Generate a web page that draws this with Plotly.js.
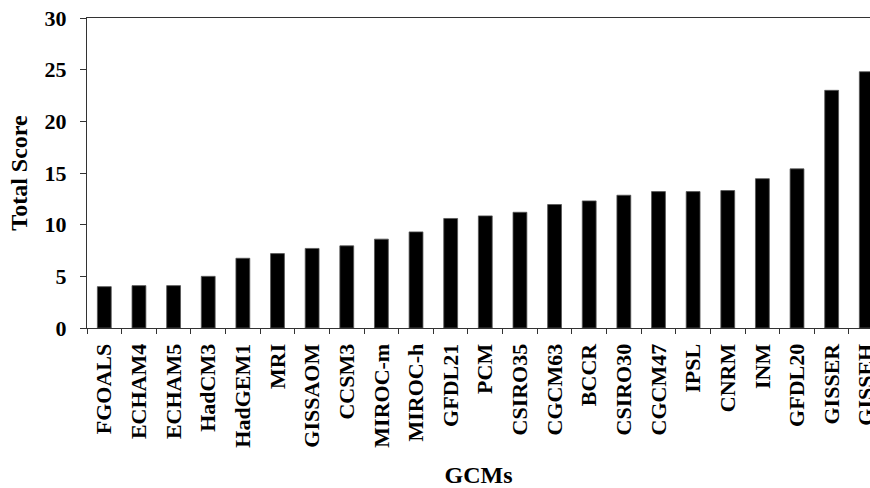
<!DOCTYPE html>
<html>
<head>
<meta charset="utf-8">
<script src="https://cdn.plot.ly/plotly-3.0.1.min.js"></script>
<style>html,body{margin:0;padding:0;background:#fff;}#chart{width:870px;height:488px;}</style>
</head>
<body>
<div id="chart"></div>
<script>
const gcms = ["FGOALS","ECHAM4","ECHAM5","HadCM3","HadGEM1","MRI","GISSAOM","CCSM3","MIROC-m","MIROC-h","GFDL21","PCM","CSIRO35","CGCM63","BCCR","CSIRO30","CGCM47","IPSL","CNRM","INM","GFDL20","GISSER","GISSEH"];
const totalScore = [4.0,4.1,4.1,5.0,6.75,7.2,7.7,7.95,8.6,9.3,10.6,10.85,11.2,11.95,12.3,12.85,13.2,13.2,13.3,14.45,15.4,23.0,24.8];
const yTicks = [0,5,10,15,20,25,30];

const font = "Liberation Serif, Times New Roman, serif";
const trace = {
  type: "bar",
  x: gcms,
  y: totalScore,
  width: 0.4,
  marker: {color: "#000000", line: {color: "#555555", width: 0.8}},
  hoverinfo: "x+y"
};
const layout = {
  width: 870, height: 488,
  margin: {l: 87, r: 0, t: 18, b: 160, pad: 0},
  paper_bgcolor: "#ffffff", plot_bgcolor: "#ffffff",
  showlegend: false,
  font: {family: font, color: "#000000"},
  xaxis: {
    type: "category",
    range: [-0.5, 22.107],
    showline: true, linecolor: "#333333", linewidth: 1, mirror: true,
    ticks: "outside", tickson: "boundaries", ticklen: 5, tickcolor: "#333333",
    tickangle: -90,
    tickfont: {family: font, size: 22, color: "#000000", weight: "bold"},
    ticklabelstandoff: 6,
    showgrid: false, zeroline: false,
    automargin: false,
    title: {text: "<b>GCMs</b>", font: {family: font, size: 24, color: "#000000"}, standoff: 20}
  },
  yaxis: {
    range: [0, 30],
    tickvals: yTicks,
    ticktext: yTicks.map(String),
    showline: true, linecolor: "#333333", linewidth: 1,
    ticks: "outside", ticklen: 6, tickcolor: "#333333",
    tickfont: {family: font, size: 22, color: "#000000", weight: "bold"},
    ticklabelstandoff: 9,
    showgrid: false, zeroline: false,
    automargin: false,
    title: {text: "<b>Total Score</b>", font: {family: font, size: 24, color: "#000000"}, standoff: 10}
  }
};
Plotly.newPlot("chart", [trace], layout, {displayModeBar: false, staticPlot: true});
</script>
</body>
</html>
